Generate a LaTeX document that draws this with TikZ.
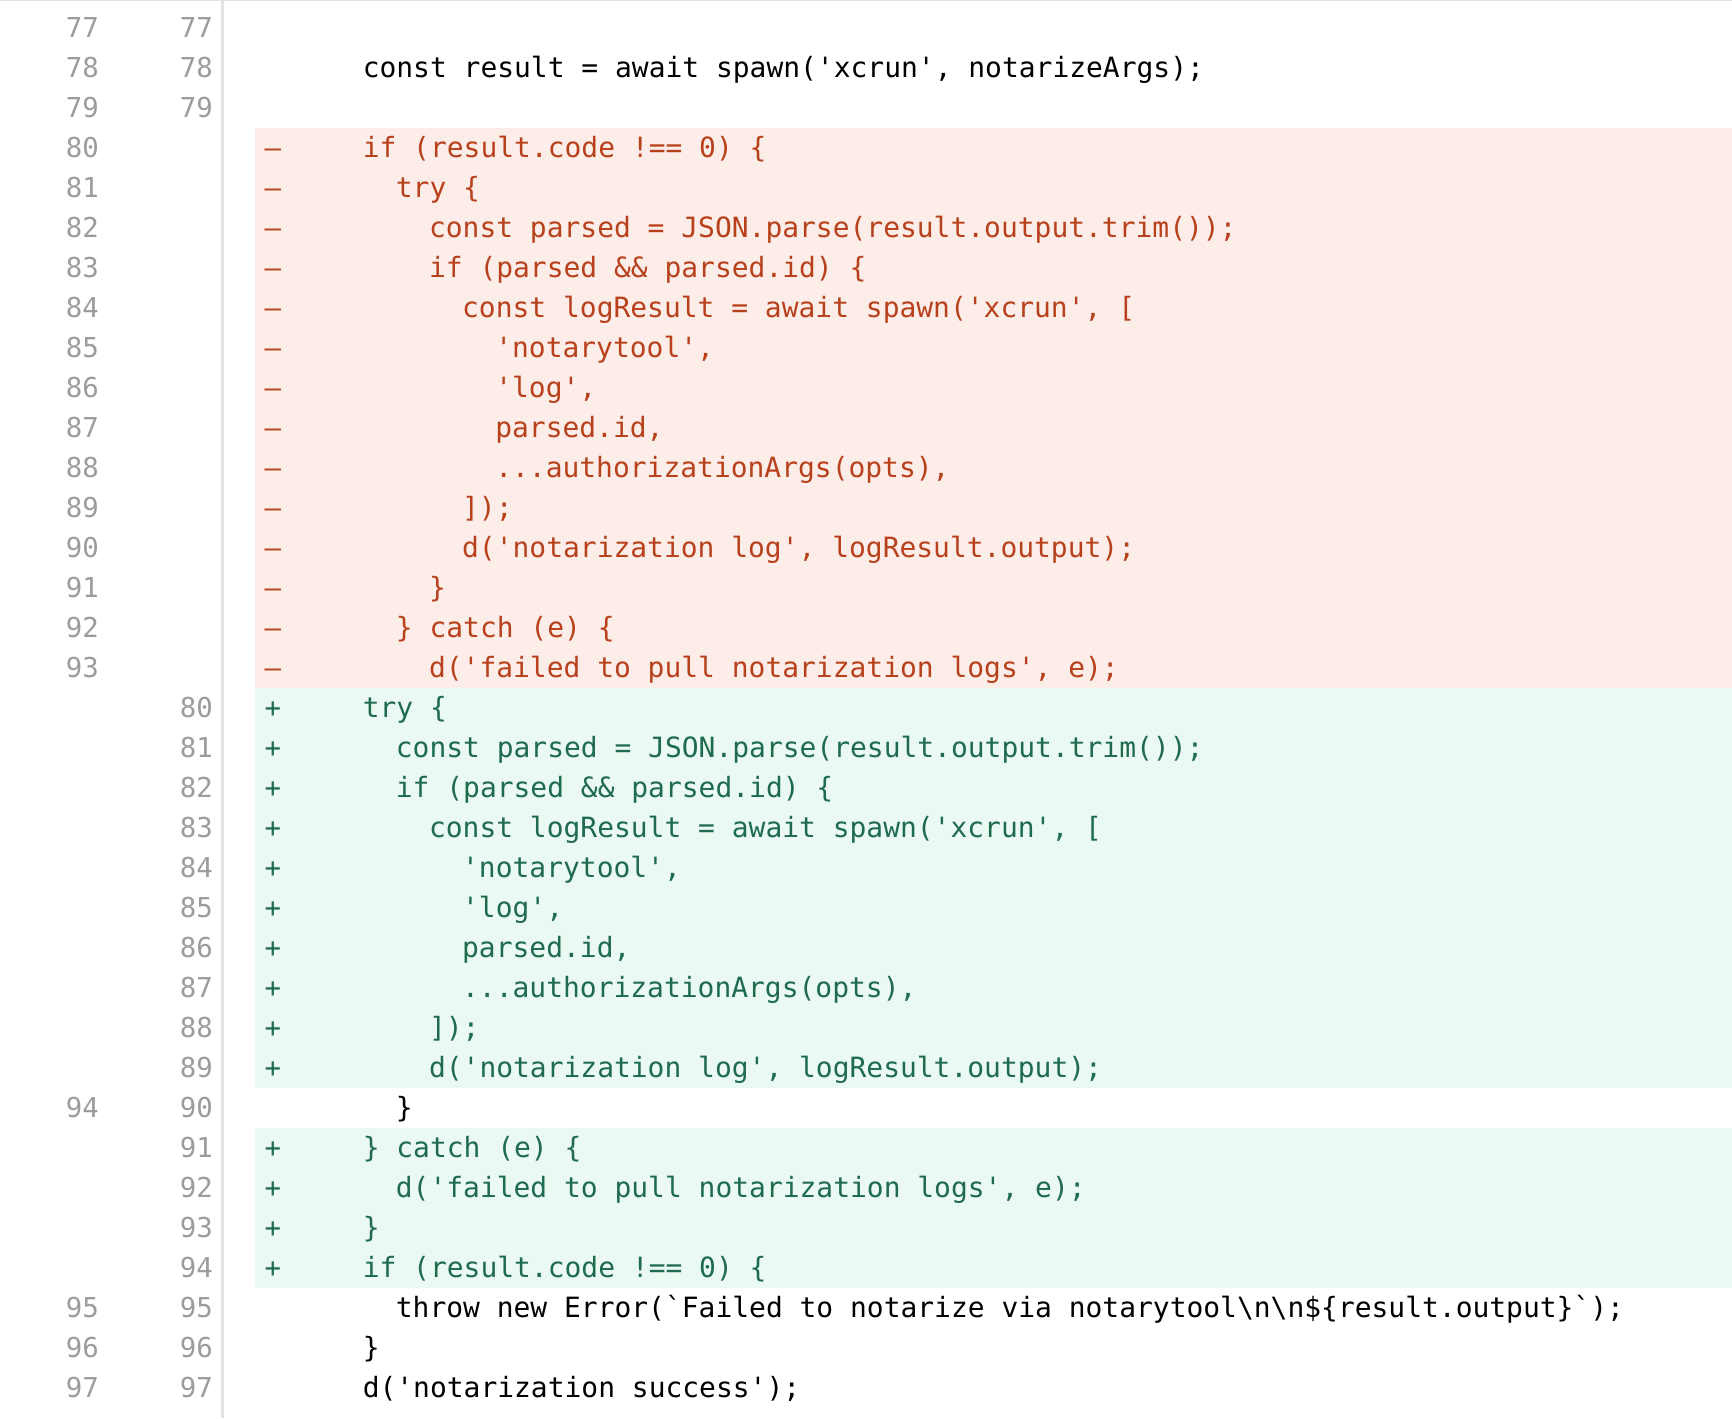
\documentclass[tikz,border=0pt]{standalone}
\usepackage{fontspec}
\newfontfamily\code{DejaVu Sans Mono}
\definecolor{delbg}{HTML}{FCEDE9}
\definecolor{addbg}{HTML}{EAF9F1}
\definecolor{deltx}{HTML}{B8411C}
\definecolor{addtx}{HTML}{1E6B4F}
\definecolor{numtx}{HTML}{9C9C9C}
\definecolor{sep}{HTML}{E2E2E2}
\tikzset{
 txt/.style={anchor=base west,inner sep=0pt,font=\code\fontsize{12.65}{14}\selectfont},
 num/.style={anchor=base east,inner sep=0pt,font=\code\fontsize{12.4}{14}\selectfont,text=numtx},
 sgn/.style={anchor=base,inner sep=0pt,font=\code\fontsize{12.4}{14}\selectfont},
}
\newcommand\setrow[1]{\pgfmathsetmacro\yc{25+36.235*#1}\pgfmathsetmacro\yb{\yc+8.5}\pgfmathsetmacro\yt{\yc-18.12}\pgfmathsetmacro\ybt{\yc+18.12}\pgfmathsetmacro\xx{268}}
\newcommand\cx[5]{\setrow{#1}\pgfmathsetmacro\xx{268+15*#4}%
 \node[num] (l#1) at (90,\yb) {#2}; \node[num] (r#1) at (193,\yb) {#3};
 \node[txt,text=black] (t#1) at (\xx,\yb) {#5};}
\newcommand\dl[4]{\setrow{#1}\pgfmathsetmacro\xx{268+15*#3}%
 \fill[delbg] (231,\yt) rectangle (1568,\ybt);
 \node[num] (l#1) at (90,\yb) {#2};
 \node[sgn,text=deltx] (s#1) at (247,\yb) {–};
 \node[txt,text=deltx] (t#1) at (\xx,\yb) {#4};}
\newcommand\al[4]{\setrow{#1}\pgfmathsetmacro\xx{268+15*#3}%
 \fill[addbg] (231,\yt) rectangle (1568,\ybt);
 \node[num] (r#1) at (193,\yb) {#2};
 \node[sgn,text=addtx] (s#1) at (247,\yb) {+};
 \node[txt,text=addtx] (t#1) at (\xx,\yb) {#4};}
\begin{document}
\begin{tikzpicture}[x=0.5pt,y=-0.5pt]
\useasboundingbox (0,0) rectangle (1568,1284);
\fill[white] (0,0) rectangle (1568,1284);
\draw[sep] (0,0.5) -- (1568,0.5);
\cx{0}{77}{77}{0}{}
\cx{1}{78}{78}{4}{const result = await spawn('xcrun', notarizeArgs);}
\cx{2}{79}{79}{0}{}
\dl{3}{80}{4}{if (result.code !== 0) \{}
\dl{4}{81}{6}{try \{}
\dl{5}{82}{8}{const parsed = JSON.parse(result.output.trim());}
\dl{6}{83}{8}{if (parsed \&\& parsed.id) \{}
\dl{7}{84}{10}{const logResult = await spawn('xcrun', [}
\dl{8}{85}{12}{'notarytool',}
\dl{9}{86}{12}{'log',}
\dl{10}{87}{12}{parsed.id,}
\dl{11}{88}{12}{...authorizationArgs(opts),}
\dl{12}{89}{10}{]);}
\dl{13}{90}{10}{d('notarization log', logResult.output);}
\dl{14}{91}{8}{\}}
\dl{15}{92}{6}{\} catch (e) \{}
\dl{16}{93}{8}{d('failed to pull notarization logs', e);}
\al{17}{80}{4}{try \{}
\al{18}{81}{6}{const parsed = JSON.parse(result.output.trim());}
\al{19}{82}{6}{if (parsed \&\& parsed.id) \{}
\al{20}{83}{8}{const logResult = await spawn('xcrun', [}
\al{21}{84}{10}{'notarytool',}
\al{22}{85}{10}{'log',}
\al{23}{86}{10}{parsed.id,}
\al{24}{87}{10}{...authorizationArgs(opts),}
\al{25}{88}{8}{]);}
\al{26}{89}{8}{d('notarization log', logResult.output);}
\cx{27}{94}{90}{6}{\}}
\al{28}{91}{4}{\} catch (e) \{}
\al{29}{92}{6}{d('failed to pull notarization logs', e);}
\al{30}{93}{4}{\}}
\al{31}{94}{4}{if (result.code !== 0) \{}
\cx{32}{95}{95}{6}{throw new Error(`Failed to notarize via notarytool\textbackslash n\textbackslash n\$\{result.output\}`);}
\cx{33}{96}{96}{4}{\}}
\cx{34}{97}{97}{4}{d('notarization success');}
\draw[sep,line width=1] (201.5,0) -- (201.5,1284);
\end{tikzpicture}
\end{document}
